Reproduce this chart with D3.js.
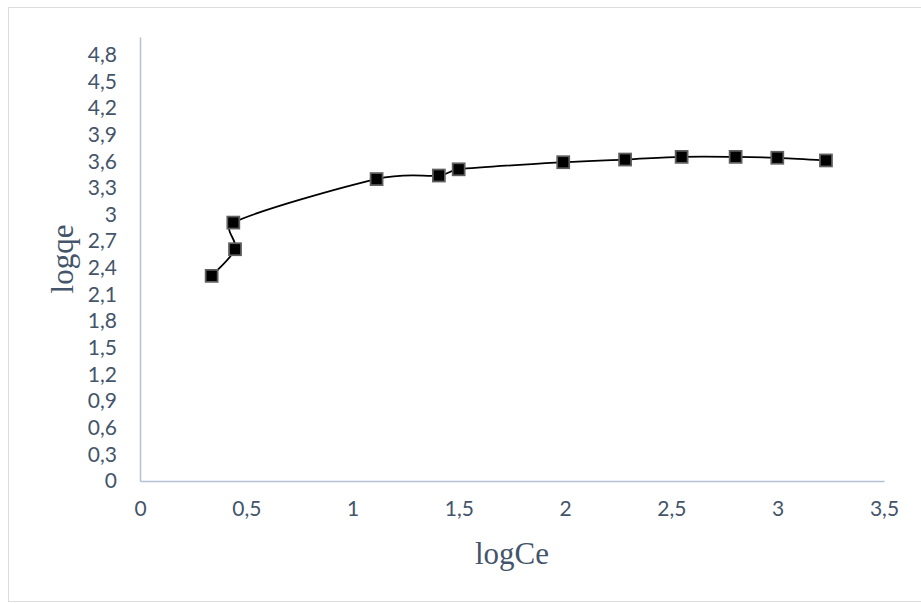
<!DOCTYPE html>
<html>
<head>
<meta charset="utf-8">
<script src="https://cdn.jsdelivr.net/npm/d3@7"></script>
<style>
  html, body { margin: 0; padding: 0; background: #fff; }
  svg { display: block; }
</style>
</head>
<body>
<svg id="chart" width="921" height="603"></svg>
<script>
// ---- data ----
const logCe = [0.337, 0.447, 0.439, 1.113, 1.406, 1.499, 1.991, 2.282, 2.548, 2.802, 2.998, 3.227];
const logqe = [2.31, 2.61, 2.91, 3.40, 3.44, 3.51, 3.59, 3.62, 3.65, 3.65, 3.64, 3.61];
const xTicks = [0, 0.5, 1, 1.5, 2, 2.5, 3, 3.5];
const yTicks = [0, 0.3, 0.6, 0.9, 1.2, 1.5, 1.8, 2.1, 2.4, 2.7, 3, 3.3, 3.6, 3.9, 4.2, 4.5, 4.8];
const xDomain = [0, 3.5];
const yDomain = [0, 5];
const xTitle = "logCe";
const yTitle = "logqe";

// ---- layout ----
const svg = d3.select("#chart");
const plot = { left: 140, right: 884, top: 37, bottom: 481 };
const axisColor = "#b4c0d3";
const textColor = "#44546a";
const fmt = v => d3.format("~g")(v).replace(".", ",");

const x = d3.scaleLinear().domain(xDomain).range([plot.left, plot.right]);
const y = d3.scaleLinear().domain(yDomain).range([plot.bottom, plot.top]);

// chart border
svg.append("rect")
  .attr("x", 8.5).attr("y", 7.5)
  .attr("width", 940).attr("height", 594)
  .attr("fill", "none").attr("stroke", "#dcdcdc").attr("stroke-width", 1);

// x axis
const xAxis = d3.axisBottom(x).tickValues(xTicks).tickFormat(fmt).tickSize(0).tickPadding(20);
const gx = svg.append("g").attr("transform", `translate(0,${plot.bottom})`).call(xAxis);
gx.select(".domain").attr("stroke", axisColor).attr("stroke-width", 1.5);
gx.selectAll("text")
  .attr("fill", textColor)
  .style("font-family", "Lato, 'Open Sans', sans-serif")
  .style("font-size", "21px");

// y axis
const yAxis = d3.axisLeft(y).tickValues(yTicks).tickFormat(fmt).tickSize(0).tickPadding(23);
const gy = svg.append("g").attr("transform", `translate(${plot.left},0)`).call(yAxis);
gy.select(".domain").attr("stroke", axisColor).attr("stroke-width", 1.5);
gy.selectAll("text")
  .attr("fill", textColor)
  .style("font-family", "Lato, 'Open Sans', sans-serif")
  .style("font-size", "21px");

// smoothed line (Catmull-Rom tangents, control arms clamped to half the segment length)
const pts = logCe.map((d, i) => [d, logqe[i]]);
const P = pts.map(d => [x(d[0]), y(d[1])]);
const path = d3.path();
const arm = (i, dir, segLen) => {
  const a = P[Math.max(i - 1, 0)], b = P[Math.min(i + 1, P.length - 1)];
  let dx = (b[0] - a[0]) / 6, dy = (b[1] - a[1]) / 6;
  const len = Math.hypot(dx, dy), lim = segLen / 2;
  if (len > lim && len > 0) { dx *= lim / len; dy *= lim / len; }
  return [P[i][0] + dir * dx, P[i][1] + dir * dy];
};
path.moveTo(P[0][0], P[0][1]);
for (let i = 0; i < P.length - 1; i++) {
  const seg = Math.hypot(P[i + 1][0] - P[i][0], P[i + 1][1] - P[i][1]);
  const c1 = arm(i, 1, seg), c2 = arm(i + 1, -1, seg);
  path.bezierCurveTo(c1[0], c1[1], c2[0], c2[1], P[i + 1][0], P[i + 1][1]);
}
svg.append("path")
  .attr("d", path.toString())
  .attr("fill", "none")
  .attr("stroke", "#000")
  .attr("stroke-width", 1.75);

// markers
const ms = 12;
svg.selectAll("rect.marker")
  .data(pts)
  .enter().append("rect")
  .attr("class", "marker")
  .attr("x", d => x(d[0]) - ms / 2)
  .attr("y", d => y(d[1]) - ms / 2)
  .attr("width", ms).attr("height", ms)
  .attr("fill", "#000")
  .attr("stroke", "#5f5f5f")
  .attr("stroke-width", 1.75);

// axis titles
svg.append("text")
  .attr("x", (plot.left + plot.right) / 2)
  .attr("y", 564)
  .attr("text-anchor", "middle")
  .attr("fill", textColor)
  .style("font-family", "'Liberation Serif', 'Times New Roman', serif")
  .style("font-size", "31px")
  .text(xTitle);

svg.append("text")
  .attr("transform", `translate(73,${(plot.top + plot.bottom) / 2}) rotate(-90)`)
  .attr("text-anchor", "middle")
  .attr("fill", textColor)
  .style("font-family", "'Liberation Serif', 'Times New Roman', serif")
  .style("font-size", "31px")
  .text(yTitle);
</script>
</body>
</html>
